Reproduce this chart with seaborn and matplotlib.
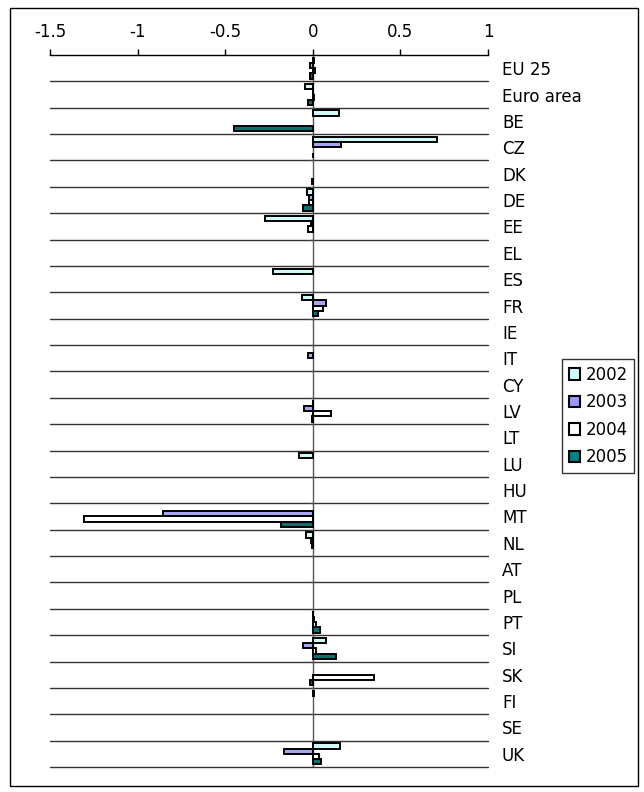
import numpy as np
import pandas as pd
import matplotlib
matplotlib.use("Agg")
import matplotlib.pyplot as plt
import seaborn as sns
from matplotlib.patches import Patch, Rectangle

countries = ["EU 25", "Euro area", "BE", "CZ", "DK", "DE", "EE", "EL", "ES", "FR",
             "IE", "IT", "CY", "LV", "LT", "LU", "HU", "MT", "NL", "AT", "PL",
             "PT", "SI", "SK", "FI", "SE", "UK"]
years = ["2002", "2003", "2004", "2005"]

v2002 = [0.005, -0.046, 0.152, 0.708, 0.0, -0.032, -0.272, 0.0, -0.228, -0.063,
         0.0, 0.0, 0.0, 0.003, 0.0, -0.078, 0.0, 0.0, -0.036, 0.0, 0.0,
         0.003, 0.076, 0.0, 0.005, 0.0, 0.156]
v2003 = [-0.015, 0.003, 0.0, 0.162, 0.0, -0.023, -0.01, 0.0, 0.0, 0.076,
         0.0, -0.025, 0.0, -0.05, 0.0, 0.0, 0.0, -0.856, -0.01, 0.0, 0.0,
         0.005, -0.057, 0.0, 0.0, 0.0, -0.164]
v2004 = [0.015, 0.005, 0.0, 0.0, 0.0, -0.023, -0.025, 0.0, 0.0, 0.057,
         0.0, 0.0, 0.0, 0.105, 0.0, 0.0, 0.0, -1.305, -0.005, 0.0, 0.0,
         0.019, 0.019, 0.35, 0.0, 0.0, 0.038]
v2005 = [-0.015, -0.027, -0.449, 0.003, -0.005, -0.055, 0.0, 0.0, 0.0, 0.032,
         0.0, 0.0, 0.0, -0.003, 0.0, 0.0, 0.0, -0.181, 0.0, 0.0, 0.0,
         0.042, 0.13, -0.017, 0.0, 0.0, 0.048]

colors = ["#CCFFFF", "#9999FF", "#FFFFFF", "#008080"]
xticks = [-1.5, -1, -0.5, 0, 0.5, 1]
xtick_labels = ["-1.5", "-1", "-0.5", "0", "0.5", "1"]

df = pd.DataFrame({
    "country": countries * 4,
    "year": sum([[y] * len(countries) for y in years], []),
    "value": v2002 + v2003 + v2004 + v2005,
})
# zero values draw nothing in the original
df["value"] = df["value"].replace(0.0, np.nan)

sns.set_style("white")
plt.rcParams["font.family"] = ["DejaVu Sans"]
plt.rcParams["text.color"] = "black"
plt.rcParams["xtick.color"] = "black"
plt.rcParams["ytick.color"] = "black"

fig = plt.figure(figsize=(6.44, 7.92), dpi=100)
ax = fig.add_axes([50 / 644, 1 - 767 / 792, 438 / 644, 712 / 792])

sns.barplot(data=df, y="country", x="value", hue="year", order=countries,
            hue_order=years, palette=colors, orient="h", width=0.8,
            edgecolor="black", linewidth=1.4, legend=False, ax=ax)

ax.set_xlim(-1.5, 1)
ax.set_ylim(len(countries) - 0.5, -0.5)

# category separators and zero line
for i in range(len(countries)):
    ax.axhline(i + 0.5, color="#333333", lw=1, zorder=0, clip_on=False)
    ax.plot([-0.012, 0.0], [i + 0.5, i + 0.5], color="#555555", lw=1, zorder=0)
ax.axvline(0, color="#555555", lw=1, zorder=0)

ax.xaxis.tick_top()
ax.set_xticks(xticks)
ax.set_xticklabels(xtick_labels, fontsize=12, color="black")
ax.tick_params(axis="x", direction="out", length=4, width=1, pad=6, color="black")
ax.yaxis.tick_right()
ax.tick_params(axis="y", length=0, pad=10, labelsize=12, labelcolor="black")
ax.set_xlabel("")
ax.set_ylabel("")
for side in ["left", "right", "bottom"]:
    ax.spines[side].set_visible(False)
ax.spines["top"].set_color("black")
ax.spines["top"].set_linewidth(1)

handles = [Patch(facecolor=c, edgecolor="black", linewidth=1.5, label=y)
           for c, y in zip(colors, years)]
leg = ax.legend(handles=handles, loc="upper left",
                bbox_to_anchor=(562 / 644, 1 - 359 / 792),
                bbox_transform=fig.transFigure, borderaxespad=0,
                fontsize=12, frameon=True, fancybox=False, shadow=False,
                handlelength=0.7, handleheight=0.7, handletextpad=0.3,
                labelspacing=0.57, borderpad=0.4)
leg.get_frame().set_edgecolor("black")
leg.get_frame().set_linewidth(1)

fig.patches.append(Rectangle((10 / 644, 1 - 786 / 792), 628 / 644, 778 / 792,
                             transform=fig.transFigure, fill=False,
                             edgecolor="black", linewidth=1))

fig.savefig("out.png", dpi=100)
